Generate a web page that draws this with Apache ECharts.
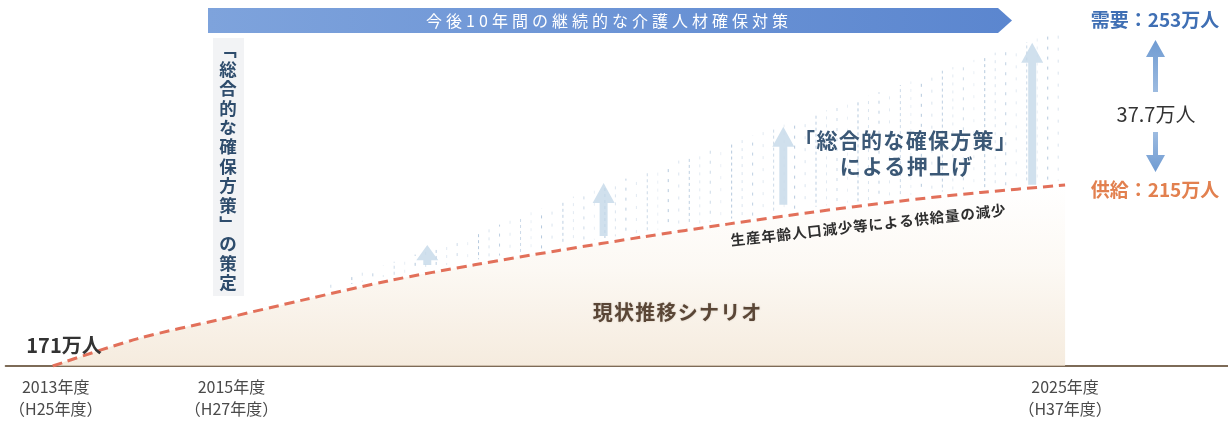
<!DOCTYPE html>
<html><head><meta charset="utf-8">
<script src="https://cdn.jsdelivr.net/npm/echarts@6/dist/echarts.min.js"></script>
<style>html,body{margin:0;padding:0;background:#fff}#c{width:1228px;height:428px}</style>
</head><body><div id="c"></div>
<script>
// ---- data ----
const years = [2013, 2014, 2015, 2016, 2017, 2018, 2019, 2020, 2021, 2022, 2023, 2024, 2025];
const supply = [171, 177.6, 182.4, 187.2, 191.8, 195.6, 199.1, 202.4, 205.5, 208.4, 211, 213.2, 215];
const demand = [null, null, 182.4, 189, 196, 203, 211, 218, 225, 232, 239, 246, 253];
const arrowYears = [2017.44, 2019.53, 2021.66, 2024.61];
const arrowBase = [195.1, 202.1, 209.7, 214.6];
const arrowTop = [200.4, 215.5, 229.2, 249.6];
const tickYears = [2013, 2015, 2025];
const tickTop = { 2013: '2013年度', 2015: '2015年度', 2025: '2025年度' };
const tickBottom = { 2013: '（H25年度）', 2015: '（H27年度）', 2025: '（H37年度）' };

const FONT = '"Noto Sans CJK JP", "Noto Sans", sans-serif';
const spaced = (s, sp) => Array.from(s).join(sp);

const supplySeries = years.map((y, i) => [y, supply[i]]);
const segData = [];
for (let i = 0; i < years.length - 1; i++) {
  if (demand[i] != null && demand[i + 1] != null) {
    segData.push([years[i], supply[i], demand[i], years[i + 1], supply[i + 1], demand[i + 1], i]);
  }
}
const arrowData = arrowYears.map((y, i) => [y, arrowBase[i], arrowTop[i]]);

const chart = echarts.init(document.getElementById('c'), null, { renderer: 'canvas' });

const vText = ['﹁', '総', '合', '的', 'な', '確', '保', '方', '策', '﹂', 'の', '策', '定'].join('\n');

chart.setOption({
  animation: false,
  backgroundColor: '#ffffff',
  grid: { left: 5, right: 0, top: 0, bottom: 62 },
  xAxis: {
    type: 'value', min: 2012.443, max: 2026.931,
    axisLine: { lineStyle: { color: '#7d6b57', width: 2 } },
    axisTick: { show: false },
    splitLine: { show: false },
    axisLabel: {
      customValues: tickYears,
      formatter: v => {
        const k = v === 2015 ? 'm' : (v === 2013 ? 's' : 'n');
        return '{' + k + '|' + (tickTop[v] || '') + '}\n{' + k + '|' + (tickBottom[v] || '') + '}';
      },
      color: '#4a4a4a', fontSize: 16, lineHeight: 22, fontFamily: FONT, margin: 10,
      rich: {
        n: { fontSize: 16, lineHeight: 22, fontFamily: FONT, color: '#4a4a4a' },
        s: { fontSize: 16, lineHeight: 22, fontFamily: FONT, color: '#4a4a4a', padding: [0, 0, 0, 6] },
        m: { fontSize: 16, lineHeight: 22, fontFamily: FONT, color: '#4a4a4a', padding: [0, 0, 0, 20] }
      }
    }
  },
  yAxis: { type: 'value', min: 171, max: 260, show: false, splitLine: { show: false } },
  series: [
    {
      type: 'custom', name: 'pushup', data: segData, z: 1,
      encode: { x: [0, 3], y: [1, 2, 4, 5] },
      renderItem: (params, api) => {
        const x0 = api.value(0), s0 = api.value(1), d0 = api.value(2);
        const x1 = api.value(3), s1 = api.value(4), d1 = api.value(5);
        const seg = api.value(6);
        const a0 = api.coord([x0, s0]), b0 = api.coord([x0, d0]);
        const a1 = api.coord([x1, s1]), b1 = api.coord([x1, d1]);
        const children = [];
        const step = 10.5;
        let k = seg * 8;
        for (let px = a0[0] + 4; px < a1[0] - 1; px += step, k++) {
          const t = (px - a0[0]) / (a1[0] - a0[0]);
          const ys = a0[1] + t * (a1[1] - a0[1]) - 5;
          const yd = b0[1] + t * (b1[1] - b0[1]);
          if (ys - yd < 5) continue;
          const alpha = [0.45, 0.2, 0.35, 0.15, 0.5, 0.25][k % 6];
          children.push({
            type: 'line',
            shape: { x1: px, y1: ys, x2: px, y2: yd },
            style: { stroke: 'rgba(110,150,190,' + alpha + ')', lineWidth: 1, lineDash: [3, 3 + (k % 4) * 2], lineDashOffset: (k * 5) % 11 }
          });
        }
        return { type: 'group', children };
      }
    },
    {
      type: 'line', name: 'supply', data: supplySeries, smooth: 0.3,
      symbol: 'none', z: 5,
      lineStyle: { color: '#e2705a', width: 3, type: [10, 6] },
      areaStyle: {
        origin: 'start',
        color: new echarts.graphic.LinearGradient(0, 0, 0, 1, [
          { offset: 0, color: 'rgba(255,255,255,1)' },
          { offset: 0.45, color: '#fbf6ef' },
          { offset: 1, color: '#f1e3d0' }
        ])
      }
    },
    {
      type: 'custom', name: 'arrows', data: arrowData, z: 3,
      encode: { x: 0, y: [1, 2] },
      renderItem: (params, api) => {
        const x = api.value(0);
        const p0 = api.coord([x, api.value(1)]);
        const p1 = api.coord([x, api.value(2)]);
        const len = p0[1] - p1[1];
        const hh = Math.min(20, len * 0.7);
        const hw = 11, sw = 4;
        const px = p0[0], ty = p1[1], by = p0[1] - 2;
        return {
          type: 'polygon',
          shape: { points: [[px - sw, by], [px - sw, ty + hh], [px - hw, ty + hh], [px, ty], [px + hw, ty + hh], [px + sw, ty + hh], [px + sw, by]] },
          style: { fill: 'rgba(196,216,233,0.8)' }
        };
      }
    }
  ],
  graphic: [
    // banner arrow
    {
      type: 'polygon', z: 10,
      shape: { points: [[208, 8], [998, 8], [1012, 20.5], [998, 33], [208, 33]] },
      style: {
        fill: new echarts.graphic.LinearGradient(0, 0, 1, 0, [
          { offset: 0, color: '#7ea3dc' }, { offset: 1, color: '#5b86cf' }
        ])
      }
    },
    { type: 'text', z: 11, x: 607, y: 21, style: { text: spaced('今後10年間の継続的な介護人材確保対策', '\u2005'), fill: '#ffffff', font: '16px ' + FONT, textAlign: 'center', textVerticalAlign: 'middle' } },
    // vertical label column
    { type: 'rect', z: 9, shape: { x: 213, y: 38, width: 31, height: 258 }, style: { fill: '#f2f3f5' } },
    { type: 'text', z: 11, x: 228, y: 40, style: { text: vText, fill: '#2e4c6c', font: 'bold 17.5px ' + FONT, lineHeight: 19.4, textAlign: 'center', textVerticalAlign: 'top' } },
    // push-up label
    { type: 'text', z: 11, x: 905, y: 140, style: { text: spaced('「総合的な確保方策」', '\u200A'), fill: '#3b5876', font: 'bold 21px ' + FONT, textAlign: 'center', textVerticalAlign: 'middle' } },
    { type: 'text', z: 11, x: 906, y: 166, style: { text: spaced('による押上げ', '\u200A'), fill: '#3b5876', font: 'bold 21px ' + FONT, textAlign: 'center', textVerticalAlign: 'middle' } },
    // decline label (rotated)
    { type: 'text', z: 11, x: 868, y: 225, rotation: 0.111, style: { text: spaced('生産年齢人口減少等による供給量の減少', '\u200A'), fill: '#2f2f2f', font: 'bold 14.5px ' + FONT, textAlign: 'center', textVerticalAlign: 'middle' } },
    // scenario label
    { type: 'text', z: 11, x: 677, y: 312, style: { text: spaced('現状推移シナリオ', '\u200A'), fill: '#5a4636', font: 'bold 20px ' + FONT, textAlign: 'center', textVerticalAlign: 'middle', textShadowColor: 'rgba(120,100,80,0.35)', textShadowBlur: 2 } },
    // start value
    { type: 'text', z: 11, x: 64, y: 345, style: { text: '171万人', fill: '#333333', font: 'bold 20px ' + FONT, textAlign: 'center', textVerticalAlign: 'middle' } },
    // right side annotations
    { type: 'text', z: 11, x: 1155, y: 20, style: { text: '需要：253万人', fill: '#3f6fb4', font: 'bold 19px ' + FONT, textAlign: 'center', textVerticalAlign: 'middle' } },
    { type: 'text', z: 11, x: 1156, y: 114, style: { text: '37.7万人', fill: '#333333', font: '20px ' + FONT, textAlign: 'center', textVerticalAlign: 'middle' } },
    { type: 'text', z: 11, x: 1155, y: 190, style: { text: '供給：215万人', fill: '#e2804f', font: 'bold 19px ' + FONT, textAlign: 'center', textVerticalAlign: 'middle' } },
    {
      type: 'polygon', z: 11,
      shape: { points: [[1153, 92], [1153, 57], [1146, 57], [1155.5, 40], [1165, 57], [1158, 57], [1158, 92]] },
      style: { fill: new echarts.graphic.LinearGradient(0, 0, 0, 1, [{ offset: 0, color: '#6f9bd2' }, { offset: 1, color: '#9dbbe0' }]) }
    },
    {
      type: 'polygon', z: 11,
      shape: { points: [[1153, 132], [1153, 155], [1146, 155], [1155.5, 172], [1165, 155], [1158, 155], [1158, 132]] },
      style: { fill: new echarts.graphic.LinearGradient(0, 0, 0, 1, [{ offset: 0, color: '#9dbbe0' }, { offset: 1, color: '#6f9bd2' }]) }
    }
  ]
});
</script>
</body></html>
